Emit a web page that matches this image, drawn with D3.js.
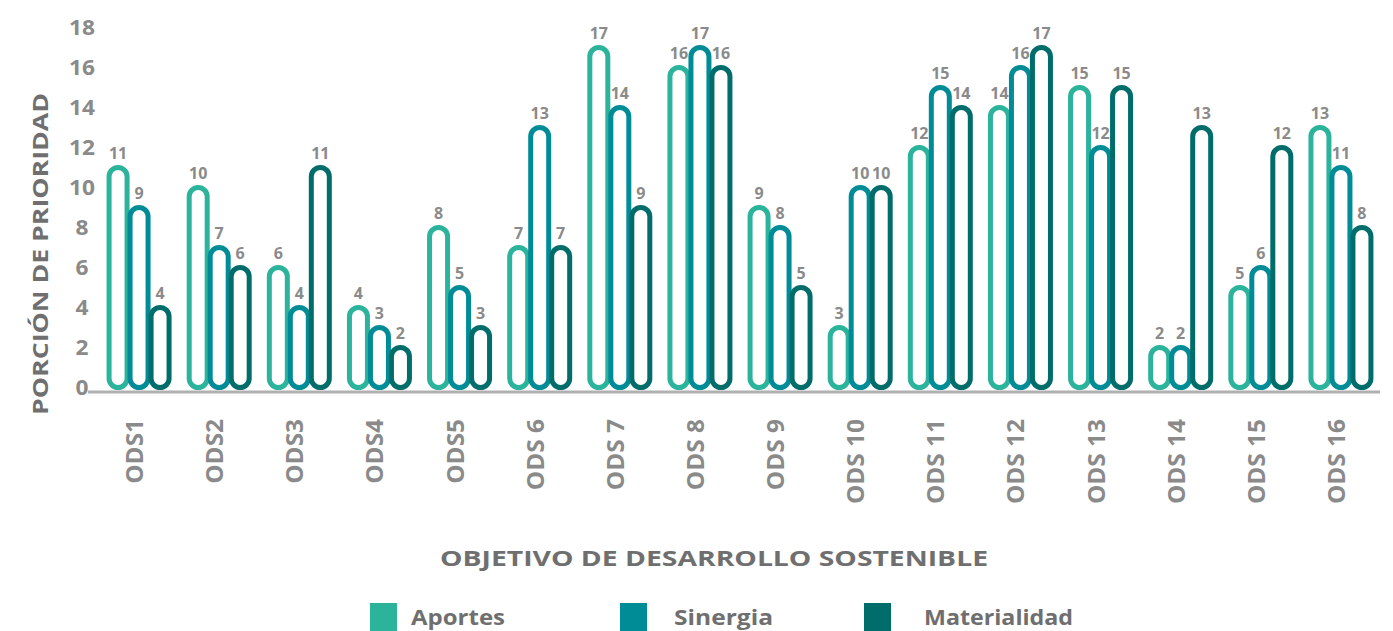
<!DOCTYPE html>
<html>
<head>
<meta charset="utf-8">
<script src="https://cdn.jsdelivr.net/npm/d3@7"></script>
<style>
  html, body { margin: 0; padding: 0; background: #fff; }
  svg { display: block; font-family: "Open Sans", "DejaVu Sans", sans-serif; font-weight: 700; }
</style>
</head>
<body>
<svg id="chart" width="1393" height="631"></svg>
<script>
const categories = ["ODS1","ODS2","ODS3","ODS4","ODS5","ODS 6","ODS 7","ODS 8","ODS 9","ODS 10","ODS 11","ODS 12","ODS 13","ODS 14","ODS 15","ODS 16"];
const seriesNames = ["Aportes","Sinergia","Materialidad"];
const aportes      = [11,10,6,4,8,7,17,16,9,3,12,14,15,2,5,13];
const sinergia     = [9,7,4,3,5,13,14,17,8,10,15,16,12,2,6,11];
const materialidad = [4,6,11,2,3,7,9,16,5,10,14,17,15,13,12,8];
const yTicks = [0,2,4,6,8,10,12,14,16,18];
const colors = ["#2bb39b","#008c97","#006d6b"];

const seriesValues = [aportes, sinergia, materialidad];
const svg = d3.select("#chart");

const x = d3.scaleBand().domain(categories).range([99, 1381]);
const y = d3.scaleLinear().domain([0, 18]).range([387.5, 27.5]);
const barW = 18, offset = 21;

function stretch(sel, k) {
  sel.each(function () {
    const w = this.getComputedTextLength();
    this.setAttribute("textLength", w * k);
    this.setAttribute("lengthAdjust", "spacingAndGlyphs");
  });
}

// y tick labels
svg.append("g").selectAll("text").data(yTicks).join("text")
  .attr("x", 82).attr("y", d => y(d)).attr("dy", "0.36em")
  .attr("text-anchor", "middle").attr("fill", "#8a8a8a")
  .attr("font-size", 21).text(d => d)
  .call(stretch, 1.08);

// y title
svg.append("text")
  .attr("transform", "translate(48,254) rotate(-90)")
  .attr("text-anchor", "middle").attr("fill", "#6f6f6f")
  .attr("font-size", 22)
  .attr("textLength", 322).attr("lengthAdjust", "spacingAndGlyphs")
  .text("PORCIÓN DE PRIORIDAD");

// bars
seriesValues.forEach((vals, si) => {
  const g = svg.append("g");
  g.selectAll("rect").data(vals).join("rect")
    .attr("x", (d, i) => x(categories[i]) + x.bandwidth() / 2 + (si - 1) * offset - barW / 2)
    .attr("y", d => y(d))
    .attr("width", barW)
    .attr("height", d => y(0) - y(d))
    .attr("rx", barW / 2).attr("ry", barW / 2)
    .attr("fill", "#fff")
    .attr("stroke", colors[si]).attr("stroke-width", 5);
});
seriesValues.forEach((vals, si) => {
  svg.append("g").selectAll("text").data(vals).join("text")
    .attr("x", (d, i) => x(categories[i]) + x.bandwidth() / 2 + (si - 1) * offset)
    .attr("y", d => y(d) - 9)
    .attr("text-anchor", "middle").attr("fill", "#8a8a8a")
    .attr("font-size", 16).text(d => d);
});

// x axis line
svg.append("line").attr("x1", 88).attr("x2", 1380).attr("y1", 392).attr("y2", 392)
  .attr("stroke", "#b0b0b0").attr("stroke-width", 3);

// x labels
svg.append("g").selectAll("text").data(categories).join("text")
  .attr("transform", d => `translate(${x(d) + x.bandwidth() / 2 + 4},419) rotate(-90)`)
  .attr("text-anchor", "end").attr("fill", "#8a8a8a")
  .attr("font-size", 23).text(d => d)
  .call(stretch, 1.06);

// x title
svg.append("text").attr("x", 714).attr("y", 566)
  .attr("text-anchor", "middle").attr("fill", "#6f6f6f")
  .attr("font-size", 22)
  .attr("textLength", 548).attr("lengthAdjust", "spacingAndGlyphs")
  .text("OBJETIVO DE DESARROLLO SOSTENIBLE");

// legend
const legendX = [370, 620, 864];
const legendTextX = [41, 54, 60];
const legendLen = [94, 99, 149];
const leg = svg.append("g").selectAll("g").data(seriesNames).join("g")
  .attr("transform", (d, i) => `translate(${legendX[i]},603)`);
leg.append("rect").attr("width", 27).attr("height", 28).attr("fill", (d, i) => colors[i]);
leg.append("text").attr("x", (d, i) => legendTextX[i]).attr("y", 22)
  .attr("fill", "#6f6f6f").attr("font-size", 21)
  .attr("textLength", (d, i) => legendLen[i]).attr("lengthAdjust", "spacingAndGlyphs")
  .text(d => d);
</script>
</body>
</html>
